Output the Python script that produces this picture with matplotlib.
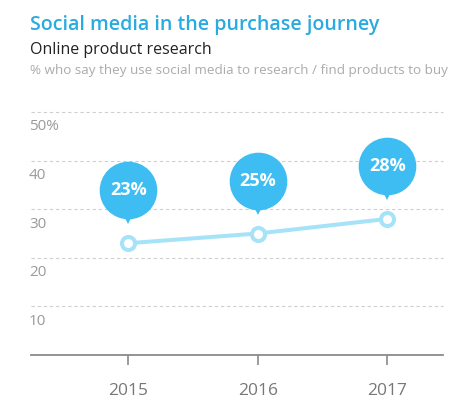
import matplotlib
matplotlib.use("Agg")
import matplotlib.pyplot as plt
from matplotlib import transforms

years = [2015, 2016, 2017]
values = [23, 25, 28]
value_labels = ["23%", "25%", "28%"]
ytick_values = [10, 20, 30, 40, 50]
ytick_labels = ["10", "20", "30", "40", "50%"]

title = "Social media in the purchase journey"
subtitle = "Online product research"
note = "% who say they use social media to research / find products to buy"

BLUE = "#3dbdf2"
LINE = "#a6e3f9"
FONT = "Open Sans"

W, H = 470, 412
fig = plt.figure(figsize=(W / 100, H / 100), dpi=100)
fig.patch.set_facecolor("white")

ax_left, ax_right = 31, 443
ax_top, ax_bottom = 112, 355
ax = fig.add_axes([ax_left / W, 1 - ax_bottom / H, (ax_right - ax_left) / W, (ax_bottom - ax_top) / H])
ax.set_facecolor("none")
ax.set_xlim(2014.25, 2017.43)
ax.set_ylim(0, 50)

for s in ["top", "right", "left"]:
    ax.spines[s].set_visible(False)
ax.spines["bottom"].set_color("#8a8a8a")
ax.spines["bottom"].set_linewidth(1.3)

# gridlines
for v in ytick_values:
    ax.axhline(v, color="#cfcfcf", lw=0.8, ls=(0, (3, 2.5)), zorder=1, clip_on=False)

ax.set_yticks([])
ax.set_xticks(years)
ax.set_xticklabels([str(y) for y in years], fontsize=12.5, color="#777777", family=FONT)
ax.tick_params(axis="x", length=7, width=1.2, color="#8a8a8a", pad=13, direction="out")

# y labels below gridlines
ylab_tr = transforms.offset_copy(
    transforms.blended_transform_factory(fig.transFigure, ax.transData), fig=fig, x=0, y=-15, units="dots")
for v, lab in zip(ytick_values, ytick_labels):
    ax.text(29 / W, v, lab, transform=ylab_tr, ha="left", va="center", fontsize=11,
            color="#9a9a9a", family=FONT)

# line
ax.plot(years, values, color=LINE, lw=2.9, zorder=3, solid_capstyle="round")
ax.plot(years, values, ls="none", marker="o", ms=9.4, mfc="white", mec=LINE, mew=2.9, zorder=4)

# bubbles
circ_tr = transforms.offset_copy(ax.transData, fig=fig, x=0, y=53, units="dots")
tri_tr = transforms.offset_copy(ax.transData, fig=fig, x=0, y=25, units="dots")
for x, v, lab in zip(years, values, value_labels):
    ax.plot([x], [v], transform=tri_tr, marker="v", ms=9, color=BLUE, mew=0, zorder=5, clip_on=False)
    ax.plot([x], [v], transform=circ_tr, marker="o", ms=41.5, color=BLUE, mew=0, zorder=5, clip_on=False)
    ax.text(x, v, lab, transform=circ_tr, ha="center", va="center", color="white",
            fontsize=13, fontweight="bold", family=FONT, zorder=6)

# titles
fig.text(30 / W, 1 - 30 / H, title, fontsize=14.1, color="#29abe2", fontweight="semibold",
         family=FONT, ha="left", va="baseline")
fig.text(30 / W, 1 - 54 / H, subtitle, fontsize=11.5, color="#222222", family=FONT,
         ha="left", va="baseline")
fig.text(30 / W, 1 - 74 / H, note, fontsize=9.7, color="#ababab", family=FONT,
         ha="left", va="baseline")

fig.savefig("out.png", dpi=100, facecolor="white")
